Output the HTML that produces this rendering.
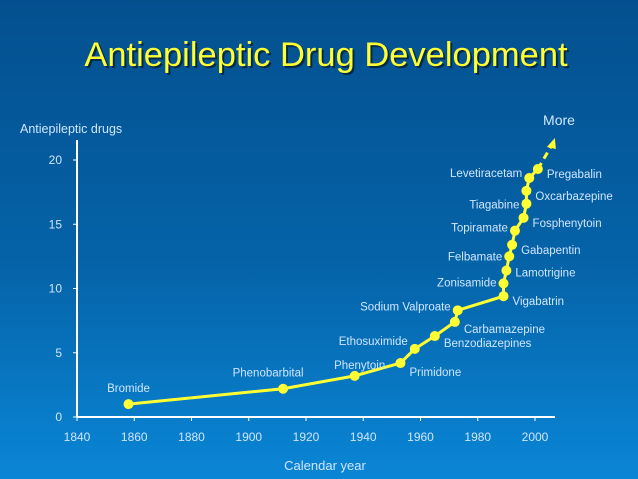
<!DOCTYPE html>
<html><head><meta charset="utf-8"><style>
body{margin:0;width:638px;height:479px;overflow:hidden;font-family:"Liberation Sans",sans-serif}
#bg{position:absolute;left:0;top:0;width:638px;height:479px;background:linear-gradient(#04508f 0%,#0563a8 55%,#0a86d6 100%)}
svg{position:absolute;left:0;top:0}
text{font-family:"Liberation Sans",sans-serif}
</style></head><body>
<div id="bg"></div>
<svg id="chart" width="638" height="479">
<text x="328" y="68" text-anchor="middle" font-size="34.5" fill="#000" opacity="0.5">Antiepileptic Drug Development</text>
<text x="326" y="66" text-anchor="middle" font-size="34.5" fill="#ffff33">Antiepileptic Drug Development</text>
<text x="20" y="133" font-size="12.5" fill="#cfe6ff">Antiepileptic drugs</text>
<text x="325" y="470" text-anchor="middle" font-size="13" fill="#cfe6ff">Calendar year</text>
<text x="559" y="125" text-anchor="middle" font-size="14" fill="#cfe6ff">More</text>
<g id="axes"></g><g id="marks"></g>
</svg>
<script>
const xTicks=[1840,1860,1880,1900,1920,1940,1960,1980,2000];
const yTicks=[0,5,10,15,20];
const years=[1858,1912,1937,1953,1958,1965,1972,1973,1989,1989,1990,1991,1992,1993,1996,1997,1997,1998,2001];
const counts=[1,2.2,3.2,4.2,5.3,6.3,7.4,8.3,9.4,10.4,11.4,12.5,13.4,14.5,15.5,16.6,17.6,18.6,19.3];
const names=["Bromide","Phenobarbital","Phenytoin","Primidone","Ethosuximide","Benzodiazepines","Carbamazepine","Sodium Valproate","Vigabatrin","Zonisamide","Lamotrigine","Felbamate","Gabapentin","Topiramate","Fosphenytoin","Tiagabine","Oxcarbazepine","Levetiracetam","Pregabalin"];
const sides=[0,0,0,1,0,1,1,0,1,0,1,0,1,0,1,0,1,0,1];
const X=v=>77+(v-1840)*(535-77)/160;
const Y=v=>417-v*(417-160)/20;
const NS="http://www.w3.org/2000/svg";
function mk(t,a,p){const e=document.createElementNS(NS,t);for(const k in a)e.setAttribute(k,a[k]);p.appendChild(e);return e;}
const ax=document.getElementById('axes'),mg=document.getElementById('marks');
let e=mk('line',{x1:77,y1:417,x2:77,y2:140,stroke:'#fff','stroke-width':2},ax);


e=mk('line',{x1:77,y1:417,x2:555,y2:417,stroke:'#fff','stroke-width':2},ax);


xTicks.forEach(t=>{
 mk('line',{x1:X(t),y1:417,x2:X(t),y2:421,stroke:'#fff'},ax);
 const tx=mk('text',{x:X(t),y:441,'text-anchor':'middle','font-size':12,fill:'#cfe6ff'},ax);
 tx.textContent=t;
 
 
});
yTicks.forEach(t=>{
 mk('line',{x1:73,y1:Y(t),x2:77,y2:Y(t),stroke:'#fff'},ax);
 const tx=mk('text',{x:62,y:Y(t)+4,'text-anchor':'end','font-size':12,fill:'#cfe6ff'},ax);
 tx.textContent=t;
 
 
});
const n=years.length;
e=mk('polyline',{points:years.map((y,i)=>X(y)+','+Y(counts[i])).join(' '),fill:'none',stroke:'#ffff33','stroke-width':3},mg);


const lx=X(years[n-1]),ly=Y(counts[n-1]);
e=mk('line',{x1:lx,y1:ly,x2:lx+14,y2:ly-24,stroke:'#ffff33','stroke-width':3,'stroke-dasharray':'7,5'},mg);


e=mk('polygon',{points:`${lx+17},${ly-31} ${lx+9},${ly-22} ${lx+18},${ly-20}`,fill:'#ffff33'},mg);


const lblOff=[0,0,0,13,-4,11,11,0,9,3,6,4,9,1,9,5,9,-1,9];
years.forEach((y,i)=>{
 const c=mk('circle',{cx:X(y),cy:Y(counts[i]),r:5,fill:'#ffff33'},mg);
 
 
 const t=mk('text',{'font-size':11.5,fill:'#cfe6ff'},mg);
 t.textContent=names[i];
 if(i<3){t.setAttribute('x',X(y)+(i==2?5:0));t.setAttribute('y',Y(counts[i])-(i==2?7:12));t.setAttribute('text-anchor','middle');if(i==1)t.setAttribute('x',X(y)-15);}
 else if(sides[i]){t.setAttribute('x',X(y)+9);t.setAttribute('y',Y(counts[i])+lblOff[i]);}
 else{t.setAttribute('x',X(y)-7);t.setAttribute('y',Y(counts[i])+lblOff[i]);t.setAttribute('text-anchor','end');}
 
 
});
</script>
</body></html>
